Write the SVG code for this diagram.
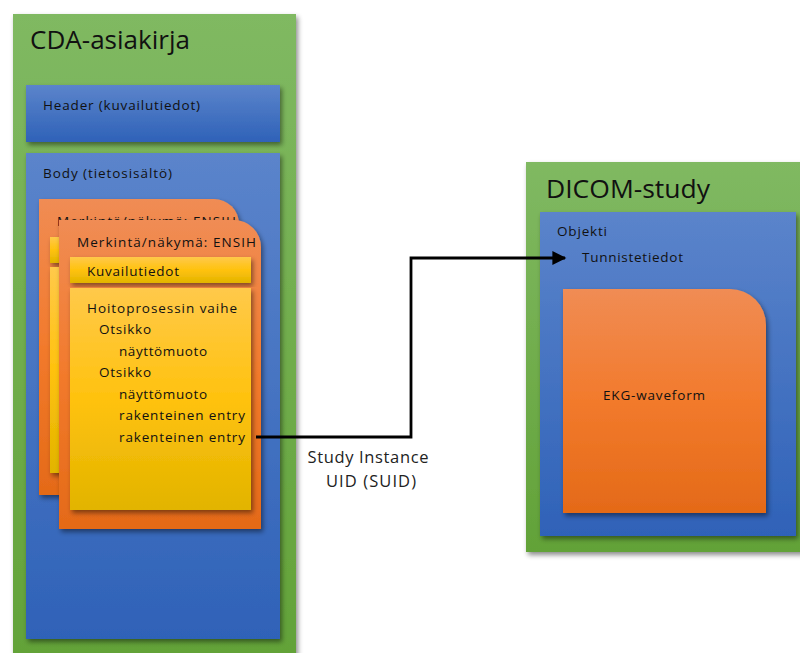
<svg xmlns="http://www.w3.org/2000/svg" width="800" height="653" viewBox="0 0 800 653">
<defs>
<linearGradient id="gGreen" x1="0" y1="0" x2="0" y2="1"><stop offset="0" stop-color="#80b962"/><stop offset="1" stop-color="#62a238"/></linearGradient>
<linearGradient id="gBlue" x1="0" y1="0" x2="0" y2="1"><stop offset="0" stop-color="#5b84cb"/><stop offset="1" stop-color="#2f62b8"/></linearGradient>
<linearGradient id="gOrange" x1="0" y1="0" x2="0" y2="1"><stop offset="0" stop-color="#f08c54"/><stop offset="0.5" stop-color="#f27a2c"/><stop offset="1" stop-color="#e46a18"/></linearGradient>
<linearGradient id="gYellow" x1="0" y1="0" x2="0" y2="1"><stop offset="0" stop-color="#ffc94a"/><stop offset="0.5" stop-color="#ffc20e"/><stop offset="1" stop-color="#e2b400"/></linearGradient>
<filter id="sh" x="-10%" y="-10%" width="125%" height="125%"><feDropShadow dx="2" dy="3" stdDeviation="2.5" flood-color="#000" flood-opacity="0.45"/></filter>
<marker id="arr" viewBox="0 0 10 10" refX="9" refY="5" markerWidth="6.5" markerHeight="5" markerUnits="strokeWidth" orient="auto"><path d="M0,0 L10,5 L0,10 z" fill="#000"/></marker>
</defs>
<style>
text{font-family:"Open Sans","Liberation Sans",Arial,sans-serif;fill:#111;}
.t{font-size:13.5px;}
.big{font-size:25px;}
.lbl{font-size:16.5px;fill:#222;}
</style>
<rect width="800" height="653" fill="#fff"/>

<g id="cda">
<rect x="13" y="14" width="283" height="650" fill="url(#gGreen)" filter="url(#sh)"/>
<text class="big" x="30" y="49" textLength="160" lengthAdjust="spacingAndGlyphs">CDA-asiakirja</text>
</g>
<g id="header">
<rect x="26" y="85" width="254" height="57" fill="url(#gBlue)" filter="url(#sh)"/>
<text class="t" x="43" y="110" textLength="157" lengthAdjust="spacing">Header (kuvailutiedot)</text>
</g>
<g id="body">
<rect x="26" y="153" width="254" height="486" fill="url(#gBlue)" filter="url(#sh)"/>
<text class="t" x="43" y="178" textLength="129" lengthAdjust="spacing">Body (tietosisältö)</text>
</g>
<g id="card-back">
<path d="M39,199 H214 A25,25 0 0 1 239,224 V495 H39 Z" fill="url(#gOrange)" filter="url(#sh)"/>
<text class="t" x="57" y="226" textLength="179" lengthAdjust="spacing">Merkintä/näkymä:  ENSIH</text>
<rect x="50" y="237" width="181" height="26" fill="url(#gYellow)" filter="url(#sh)"/>
<rect x="50" y="267" width="181" height="206" fill="url(#gYellow)" filter="url(#sh)"/>
</g>
<g id="card-front">
<path d="M59,220 H234 A27,27 0 0 1 261,247 V529 H59 Z" fill="url(#gOrange)" filter="url(#sh)"/>
<text class="t" x="77" y="247" textLength="179" lengthAdjust="spacing">Merkintä/näkymä:  ENSIH</text>
</g>
<g id="kuvailutiedot">
<rect x="70" y="257" width="181" height="26" fill="url(#gYellow)" filter="url(#sh)"/>
<text class="t" x="87" y="276" textLength="92" lengthAdjust="spacing">Kuvailutiedot</text>
</g>
<g id="content">
<rect x="70" y="288" width="181" height="222" fill="url(#gYellow)" filter="url(#sh)"/>
<text class="t" x="87" y="313" textLength="150" lengthAdjust="spacing">Hoitoprosessin vaihe</text>
<text class="t" x="99" y="334" textLength="52" lengthAdjust="spacing">Otsikko</text>
<text class="t" x="119" y="356" textLength="88" lengthAdjust="spacing">näyttömuoto</text>
<text class="t" x="99" y="377" textLength="52" lengthAdjust="spacing">Otsikko</text>
<text class="t" x="119" y="399" textLength="88" lengthAdjust="spacing">näyttömuoto</text>
<text class="t" x="119" y="420" textLength="126" lengthAdjust="spacing">rakenteinen  entry</text>
<text class="t" x="119" y="442" textLength="126" lengthAdjust="spacing">rakenteinen  entry</text>
</g>

<g id="dicom">
<rect x="526" y="162" width="290" height="390" fill="url(#gGreen)" filter="url(#sh)"/>
<text class="big" x="546" y="198" textLength="164" lengthAdjust="spacingAndGlyphs">DICOM-study</text>
</g>
<g id="objekti">
<rect x="540" y="212" width="256" height="324" fill="url(#gBlue)" filter="url(#sh)"/>
<text class="t" x="557" y="236" textLength="50" lengthAdjust="spacing">Objekti</text>
<text class="t" x="582" y="262" textLength="101" lengthAdjust="spacing">Tunnistetiedot</text>
</g>
<g id="ekg">
<path d="M563,289 H730 A36,36 0 0 1 766,325 V513 H563 Z" fill="url(#gOrange)" filter="url(#sh)"/>
<text class="t" x="603" y="400" textLength="102" lengthAdjust="spacing">EKG-waveform</text>
</g>

<g id="connectors">
<path d="M256,437 H411 V258 H565" fill="none" stroke="#000" stroke-width="2.8" marker-end="url(#arr)"/>
<text class="lbl" x="368" y="463" text-anchor="middle" textLength="121" lengthAdjust="spacing">Study Instance</text>
<text class="lbl" x="371" y="487" text-anchor="middle" textLength="90" lengthAdjust="spacing">UID (SUID)</text>
</g>
</svg>
